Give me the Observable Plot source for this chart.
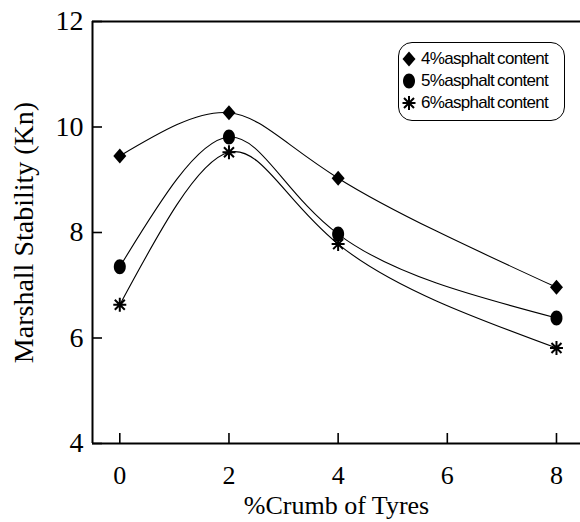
<!DOCTYPE html>
<html>
<head>
<meta charset="utf-8">
<script src="https://cdn.jsdelivr.net/npm/d3@7"></script>
<script src="https://cdn.jsdelivr.net/npm/@observablehq/plot@0.6"></script>
<style>
  html, body { margin: 0; padding: 0; background: white; }
  #wrap { position: relative; width: 580px; height: 522px; overflow: hidden; }
  #legend { position: absolute; left: 398px; top: 42px; width: 167px; height: 79px; box-sizing: border-box;
    border: 1.3px solid black; border-radius: 14px; background: white;
    font-family: "Liberation Sans", Arial, sans-serif; font-size: 17px; letter-spacing: -0.7px; word-spacing: -1px; }
  .row { position: absolute; left: 0; height: 22px; line-height: 22px; white-space: nowrap; }
  .row svg { position: absolute; left: 1px; top: 3px; }
  .row span { position: absolute; left: 22px; top: 0; }
</style>
</head>
<body>
<div id="wrap"><div id="chart"></div><div id="legend"></div></div>
<script>
// ---- data ----
const xValues = [0, 2, 4, 8];
const series4 = [9.45, 10.27, 9.03, 6.96];
const series5 = [7.35, 9.81, 7.97, 6.38];
const series6 = [6.63, 9.52, 7.78, 5.81];
const seriesNames = ["4%asphalt content", "5%asphalt content", "6%asphalt content"];
const xTicks = [0, 2, 4, 6, 8];
const yTicks = [4, 6, 8, 10, 12];
const xDomain = [-0.5, 8.44];
const yDomain = [4, 12];
const xLabel = "%Crumb of Tyres";
const yLabel = "Marshall Stability (Kn)";

// ---- symbols ----
const diamondSym = { draw(c) { c.moveTo(0, -7.5); c.lineTo(6.5, 0); c.lineTo(0, 7.5); c.lineTo(-6.5, 0); c.closePath(); } };
const ellipseSym = { draw(c) {
  const rx = 6, ry = 7.5, k = 0.5523;
  c.moveTo(rx, 0);
  c.bezierCurveTo(rx, ry * k, rx * k, ry, 0, ry);
  c.bezierCurveTo(-rx * k, ry, -rx, ry * k, -rx, 0);
  c.bezierCurveTo(-rx, -ry * k, -rx * k, -ry, 0, -ry);
  c.bezierCurveTo(rx * k, -ry, rx, -ry * k, rx, 0);
  c.closePath();
} };
const starSym = { draw(c) {
  c.moveTo(0, -7); c.lineTo(0, 7);
  c.moveTo(-6.5, 0); c.lineTo(6.5, 0);
  c.moveTo(-5, -5); c.lineTo(5, 5);
  c.moveTo(-5, 5); c.lineTo(5, -5);
} };

const seriesList = [
  { name: seriesNames[0], values: series4, symbol: diamondSym, filled: true },
  { name: seriesNames[1], values: series5, symbol: ellipseSym, filled: true },
  { name: seriesNames[2], values: series6, symbol: starSym, filled: false }
];

const marks = [];
for (const s of seriesList) {
  const data = xValues.map((x, i) => ({ x, y: s.values[i] }));
  marks.push(Plot.line(data, { x: "x", y: "y", curve: "natural", stroke: "black", strokeWidth: 1.1 }));
}
for (const s of seriesList) {
  const data = xValues.map((x, i) => ({ x, y: s.values[i] }));
  marks.push(Plot.dot(data, { x: "x", y: "y", symbol: () => s.symbol, r: 5,
    fill: s.filled ? "black" : "none", stroke: "black", strokeWidth: s.filled ? 0 : 2 }));
}

const chart = Plot.plot({
  width: 580, height: 522,
  marginLeft: 92, marginRight: 0, marginTop: 21, marginBottom: 79,
  x: { domain: xDomain, label: xLabel, labelArrow: "none" },
  y: { domain: yDomain, label: yLabel, labelArrow: "none" },
  symbol: { type: "identity" },
  style: { fontFamily: "'Liberation Serif', 'Times New Roman', serif", fontSize: "26px", color: "black", background: "white", overflow: "visible" },
  marks: [
    Plot.axisX(xTicks, { tickSize: -10, tickPadding: 32, strokeWidth: 1.6, tickFormat: "d", label: xLabel, labelArrow: "none", labelAnchor: "center", labelOffset: 70, fontSize: 26 }),
    Plot.axisY(yTicks, { tickSize: -10, tickPadding: 19, strokeWidth: 1.6, tickFormat: "d", label: yLabel, labelArrow: "none", labelAnchor: "center", labelOffset: 79, fontSize: 28 }),
    Plot.ruleX([xDomain[0]], { stroke: "black", strokeWidth: 2 }),
    Plot.ruleY(yDomain, { stroke: "black", strokeWidth: 2 }),
    ...marks
  ]
});
document.getElementById("chart").appendChild(chart);

// ---- legend ----
const legend = document.getElementById("legend");
seriesList.forEach((s, i) => {
  const row = document.createElement("div");
  row.className = "row";
  row.style.top = (5 + i * 22) + "px";
  const p = d3.path(); s.symbol.draw(p);
  row.innerHTML = `<svg width="18" height="16" viewBox="-9 -8 18 16"><path d="${p.toString()}" fill="${s.filled ? "black" : "none"}" stroke="black" stroke-width="${s.filled ? 0 : 2}"/></svg><span>${s.name}</span>`;
  legend.appendChild(row);
});
</script>
</body>
</html>
